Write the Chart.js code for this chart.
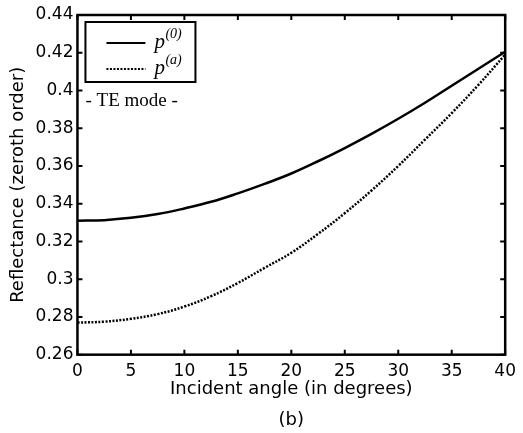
<!DOCTYPE html>
<html>
<head>
<meta charset="utf-8">
<script src="https://cdn.jsdelivr.net/npm/chart.js@4.4.0/dist/chart.umd.min.js"></script>
<style>
  html, body { margin: 0; padding: 0; background: #fff; }
  #wrap { width: 523px; height: 433px; position: relative; }
</style>
</head>
<body>
<div id="wrap"><canvas id="chart" width="523" height="433"></canvas></div>
<script>
// incident angles (degrees)
const angles = [0, 2.5, 5, 7.5, 10, 12.5, 15, 17.5, 20, 22.5, 25, 27.5, 30, 32.5, 35, 37.5, 40];
// p(0) reflectance, solid line
const p0Values = [0.331, 0.3313, 0.3325, 0.3345, 0.3375, 0.341, 0.3455, 0.3505, 0.356, 0.3625, 0.3695, 0.377, 0.385, 0.3935, 0.4025, 0.4115, 0.4205];
// p(a) reflectance, dotted line
const paValues = [0.277, 0.2775, 0.279, 0.2815, 0.2855, 0.291, 0.298, 0.306, 0.314, 0.324, 0.335, 0.347, 0.36, 0.374, 0.388, 0.403, 0.419];

const xTicks = [0, 5, 10, 15, 20, 25, 30, 35, 40];
const yTicks = [0.26, 0.28, 0.3, 0.32, 0.34, 0.36, 0.38, 0.4, 0.42, 0.44];

const sansFont = "'DejaVu Sans', 'Liberation Sans', sans-serif";
const serifFont = "'Liberation Serif', 'Times New Roman', serif";

// inward ticks on all four sides + frame, like the matlab box
const boxTicks = {
  id: 'boxTicks',
  afterDraw(chart) {
    const { ctx, chartArea: a, scales } = chart;
    const len = 5;
    ctx.save();
    ctx.strokeStyle = '#000';
    ctx.lineWidth = 2;
    ctx.beginPath();
    xTicks.forEach(v => {
      const px = scales.x.getPixelForValue(v);
      ctx.moveTo(px, a.bottom); ctx.lineTo(px, a.bottom - len);
      ctx.moveTo(px, a.top); ctx.lineTo(px, a.top + len);
    });
    yTicks.forEach(v => {
      const py = scales.y.getPixelForValue(v);
      ctx.moveTo(a.left, py); ctx.lineTo(a.left + len, py);
      ctx.moveTo(a.right, py); ctx.lineTo(a.right - len, py);
    });
    ctx.stroke();
    ctx.lineWidth = 2.5;
    ctx.strokeRect(a.left, a.top, a.right - a.left, a.bottom - a.top);
    ctx.restore();
  }
};

// legend box with p^(0), p^(a) and the "- TE mode -" note
const legendBox = {
  id: 'legendBox',
  afterDraw(chart) {
    const { ctx, chartArea: a } = chart;
    const left = a.left + 8, top = a.top + 7;
    const w = 110, h = 60;
    ctx.save();
    ctx.fillStyle = '#fff';
    ctx.fillRect(left, top, w, h);
    ctx.strokeStyle = '#000';
    ctx.lineWidth = 2;
    ctx.strokeRect(left, top, w, h);

    const rows = [
      { sup: '(0)', dash: [], y: top + 21 },
      { sup: '(a)', dash: [2, 1.5], y: top + 47 }
    ];
    rows.forEach(r => {
      ctx.beginPath();
      ctx.setLineDash(r.dash);
      ctx.lineWidth = 2.2;
      ctx.moveTo(left + 21, r.y);
      ctx.lineTo(left + 60, r.y);
      ctx.stroke();
      ctx.setLineDash([]);
      ctx.fillStyle = '#000';
      ctx.textBaseline = 'alphabetic';
      ctx.font = 'italic 21px ' + serifFont;
      ctx.fillText('p', left + 69, r.y + 5);
      ctx.font = 'italic 14px ' + serifFont;
      ctx.fillText(r.sup, left + 80, r.y - 5);
    });

    ctx.font = '19px ' + serifFont;
    ctx.fillText('- TE mode -', a.left + 8, a.top + 91);
    ctx.restore();
  }
};

new Chart(document.getElementById('chart'), {
  type: 'line',
  data: {
    labels: angles,
    datasets: [
      {
        label: 'p(0)',
        data: angles.map((x, i) => ({ x, y: p0Values[i] })),
        borderColor: '#000',
        borderWidth: 2.5,
        pointRadius: 0,
        tension: 0.4,
        fill: false,
      },
      {
        label: 'p(a)',
        data: angles.map((x, i) => ({ x, y: paValues[i] })),
        borderColor: '#000',
        borderWidth: 2.5,
        borderDash: [2, 1.5],
        pointRadius: 0,
        tension: 0.4,
        fill: false,
      },
    ],
  },
  options: {
    responsive: false,
    animation: false,
    layout: { padding: { top: 15, right: 3, left: 8, bottom: 0 } },
    plugins: {
      legend: { display: false },
      tooltip: { enabled: false },
    },
    scales: {
      x: {
        type: 'linear',
        min: 0,
        max: 40,
        afterBuildTicks: scale => { scale.ticks = xTicks.map(v => ({ value: v })); },
        grid: { display: false, drawTicks: false },
        border: { display: false },
        ticks: {
          color: '#000',
          padding: 7,
          maxRotation: 0,
          font: { family: sansFont, size: 17 },
          callback: v => String(v),
        },
        title: {
          display: true,
          text: ['Incident angle (in degrees)', '(b)'],
          color: '#000',
          font: { family: sansFont, size: 18, lineHeight: 1.72 },
          padding: { top: -15, bottom: -3 },
        },
      },
      y: {
        type: 'linear',
        min: 0.26,
        max: 0.44,
        afterBuildTicks: scale => { scale.ticks = yTicks.map(v => ({ value: v })); },
        grid: { display: false, drawTicks: false },
        border: { display: false },
        ticks: {
          color: '#000',
          padding: 4,
          font: { family: sansFont, size: 17 },
          callback: v => String(+v.toFixed(2)),
        },
        title: {
          display: true,
          text: 'Reflectance (zeroth order)',
          color: '#000',
          font: { family: sansFont, size: 18 },
          padding: { top: 0, bottom: 2 },
        },
      },
    },
  },
  plugins: [boxTicks, legendBox],
});
</script>
</body>
</html>
